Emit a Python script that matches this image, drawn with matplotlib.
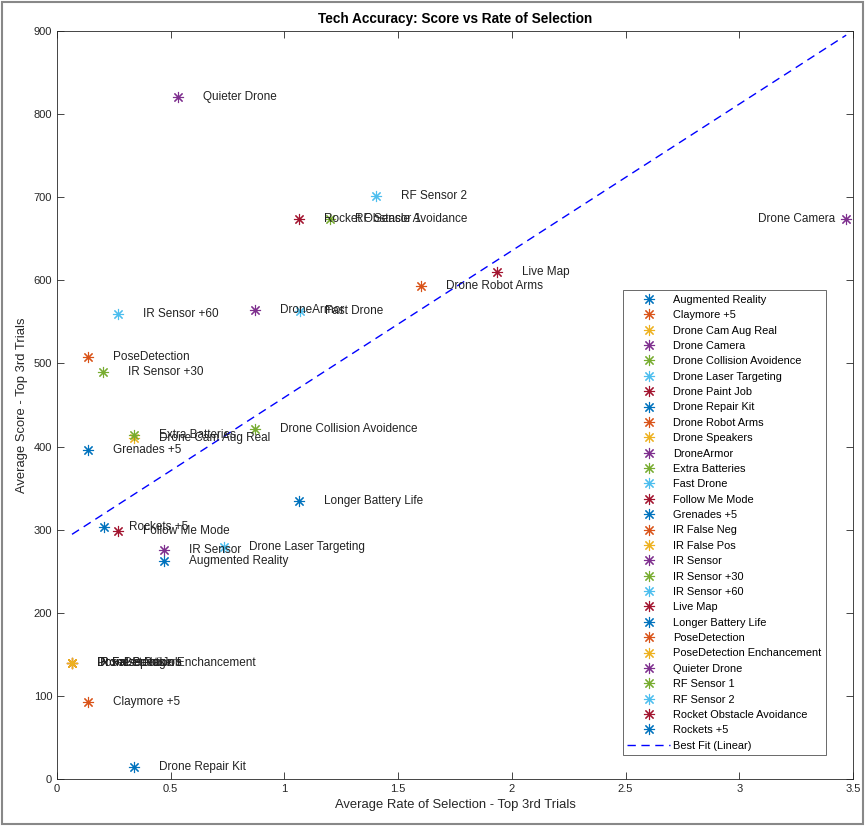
import numpy as np
import matplotlib
matplotlib.use("Agg")
import matplotlib.pyplot as plt
from matplotlib.patches import Rectangle

plt.rcParams['font.family'] = ['Liberation Sans', 'DejaVu Sans']

names = ["Augmented Reality", "Claymore +5", "Drone Cam Aug Real", "Drone Camera",
         "Drone Collision Avoidence", "Drone Laser Targeting", "Drone Paint Job",
         "Drone Repair Kit", "Drone Robot Arms", "Drone Speakers", "DroneArmor",
         "Extra Batteries", "Fast Drone", "Follow Me Mode", "Grenades +5",
         "IR False Neg", "IR False Pos", "IR Sensor", "IR Sensor +30", "IR Sensor +60",
         "Live Map", "Longer Battery Life", "PoseDetection", "PoseDetection Enchancement",
         "Quieter Drone", "RF Sensor 1", "RF Sensor 2", "Rocket Obstacle Avoidance",
         "Rockets +5"]
rate = [0.47, 0.136, 0.339, 3.47, 0.871, 0.734, 0.066, 0.339, 1.60, 0.066, 0.871,
        0.339, 1.069, 0.268, 0.136, 0.066, 0.066, 0.47, 0.202, 0.268, 1.935, 1.064,
        0.136, 0.066, 0.532, 1.20, 1.403, 1.064, 0.207]
score = [262, 93, 410, 674, 421, 279, 140, 14, 593, 140, 564, 414, 563, 298, 396,
         140, 140, 276, 490, 560, 610, 335, 508, 140, 820, 674, 701, 674, 303]

colors = ["#0072BD", "#D95319", "#EDB120", "#7E2F8E", "#77AC30", "#4DBEEE", "#A2142F"]

fig = plt.figure(figsize=(8.65, 8.26), dpi=100)
ax = fig.add_axes([57/865, 47/826, 796/865, 748/826])

for i, (n, xv, yv) in enumerate(zip(names, rate, score)):
    ax.plot(xv, yv, linestyle='none', marker=(8, 2, 0), markersize=8,
            color=colors[i % 7], label=n, markeredgewidth=0.8)
    if n == "Drone Camera":
        ax.text(xv - 0.05, yv, n, ha='right', va='center', fontsize=8.5, color='#222222')
    else:
        ax.text(xv + 0.11, yv, n, ha='left', va='center', fontsize=8.5, color='#222222')

coef = np.polyfit(rate, score, 1)
xs = np.array([min(rate), max(rate)])
ax.plot(xs, np.polyval(coef, xs), '--', color='blue', lw=1, label='Best Fit (Linear)',
        dashes=(6, 4))

ax.set_xlim(0, 3.5)
ax.set_ylim(0, 900)
ax.set_xticks(np.arange(0, 3.51, 0.5))
ax.set_xticklabels(['0', '0.5', '1', '1.5', '2', '2.5', '3', '3.5'])
ax.set_yticks(np.arange(0, 901, 100))
ax.tick_params(direction='in', top=True, right=True, labelsize=8, colors='#262626',
               length=5, width=0.6)
for s in ax.spines.values():
    s.set_color('#262626')
    s.set_linewidth(0.6)
ax.set_title('Tech Accuracy: Score vs Rate of Selection', fontsize=9.8, fontweight='bold', pad=6)
ax.set_xlabel('Average Rate of Selection - Top 3rd Trials', fontsize=9.4, color='#262626')
ax.set_ylabel('Average Score - Top 3rd Trials', fontsize=9.4, color='#262626')

leg = ax.legend(loc='lower right', bbox_to_anchor=(0.966, 0.032), fontsize=7.9,
                frameon=True, fancybox=False, edgecolor='#262626', labelspacing=0.49,
                handlelength=3.9, handletextpad=0.3, borderpad=0.4, borderaxespad=0)
leg.get_frame().set_linewidth(0.6)

fig.patches.append(Rectangle((0.002, 0.002), 0.996, 0.996, transform=fig.transFigure,
                             fill=False, edgecolor='#888888', lw=1.5))
fig.savefig('out.png', dpi=100)
